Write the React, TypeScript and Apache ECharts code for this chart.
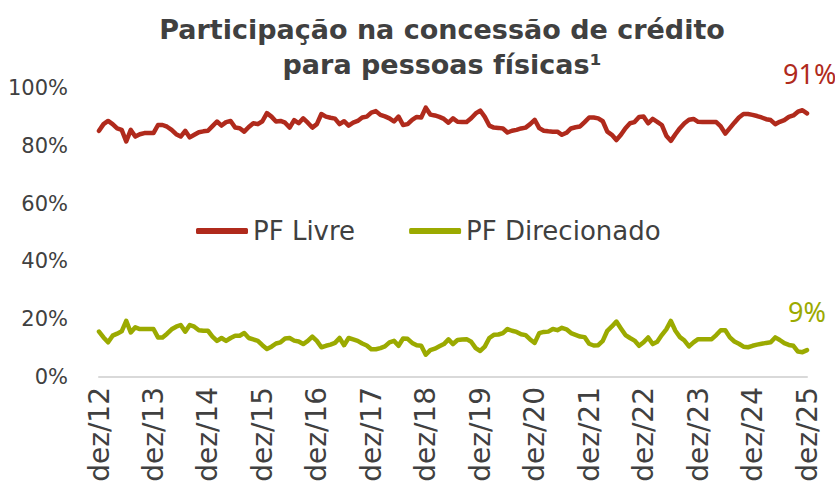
import React, { useEffect, useRef } from "react";
import * as echarts from "echarts";

const MONTHS = ["jan", "fev", "mar", "abr", "mai", "jun", "jul", "ago", "set", "out", "nov", "dez"];
const START_YEAR = 12;
const END_YEAR = 25;

const categories: string[] = (() => {
  const out: string[] = ["dez/" + START_YEAR];
  for (let y = START_YEAR + 1; y <= END_YEAR; y++) {
    for (let m = 0; m < 12; m++) out.push(MONTHS[m] + "/" + y);
  }
  return out;
})();

const pfLivre = [
  85.2, 87.5, 88.6, 87.5, 86.0, 85.5, 81.5, 85.5, 83.2, 84.0,
  84.4, 84.4, 84.4, 87.2, 87.2, 86.6, 85.5, 84.0, 83.2, 85.2,
  82.9, 83.8, 84.7, 85.0, 85.2, 86.8, 88.4, 87.0, 88.2, 88.6,
  86.3, 86.1, 84.9, 86.5, 87.8, 87.5, 88.5, 91.3, 90.1, 88.4,
  88.6, 88.0, 86.3, 88.9, 87.8, 89.5, 88.0, 86.3, 87.5, 91.0,
  90.1, 89.7, 89.4, 87.5, 88.5, 87.0, 88.0, 88.6, 89.8, 90.1,
  91.5, 92.0, 90.7, 90.2, 89.5, 88.4, 90.1, 87.2, 87.5, 89.0,
  90.0, 89.8, 93.2, 90.8, 90.5, 90.0, 89.3, 88.0, 89.5, 88.3,
  88.2, 88.2, 89.5, 91.2, 92.2, 90.0, 87.0, 86.3, 86.2, 86.0,
  84.6, 85.2, 85.5, 86.0, 86.3, 87.5, 89.0, 86.1, 85.2, 85.0,
  84.9, 84.9, 83.8, 84.5, 86.0, 86.4, 86.7, 88.2, 89.8, 89.8,
  89.5, 88.5, 84.9, 83.8, 82.0, 83.8, 86.1, 87.8, 88.2, 90.0,
  90.1, 87.8, 89.3, 88.3, 87.2, 83.5, 81.7, 84.0, 86.1, 87.8,
  89.0, 89.3, 88.3, 88.2, 88.2, 88.2, 88.2, 86.7, 84.2, 86.1,
  88.0, 89.8, 91.0, 91.0, 90.7, 90.3, 89.8, 89.2, 88.9, 87.5,
  88.3, 88.9, 90.0, 90.5, 91.8, 92.3, 91.2,
];

const pfDirecionado = [
  15.7, 13.7, 12.0, 14.3, 15.0, 15.8, 19.4, 15.4, 17.2, 16.6,
  16.6, 16.6, 16.6, 13.7, 13.7, 15.0, 16.5, 17.4, 18.0, 15.7,
  18.0, 17.4, 16.2, 16.0, 16.0, 14.0, 12.5, 13.5, 12.5, 13.5,
  14.3, 14.3, 15.2, 13.5, 13.0, 12.5, 11.0, 9.7, 10.5, 11.6,
  12.0, 13.3, 13.5, 12.6, 12.3, 11.4, 12.5, 14.0, 12.5, 10.3,
  10.8, 11.2, 11.8, 13.5, 11.0, 13.5, 13.0, 12.5, 11.6, 10.9,
  9.6, 9.6, 10.0, 10.6, 12.0, 12.5, 10.8, 13.3, 13.2, 11.8,
  11.0, 10.8, 7.7, 9.3, 9.8, 10.6, 11.4, 13.0, 11.4, 12.8,
  13.0, 13.1, 12.2, 10.0, 9.0, 10.5, 13.5, 14.6, 14.7, 15.2,
  16.6, 16.0, 15.6, 14.8, 14.5, 13.0, 11.8, 15.2, 15.6, 15.7,
  16.6, 16.2, 17.0, 16.5, 15.2, 14.6, 14.0, 13.8, 11.5, 10.9,
  11.0, 12.5, 16.0, 17.5, 19.2, 16.8, 14.5, 13.5, 12.6, 10.8,
  12.0, 13.7, 11.4, 12.2, 14.5, 16.5, 19.4, 16.0, 13.8, 12.6,
  10.6, 12.0, 13.1, 13.1, 13.1, 13.1, 14.5, 16.2, 16.2, 13.7,
  12.3, 11.5, 10.5, 10.3, 10.8, 11.2, 11.5, 11.8, 12.0, 13.7,
  12.8, 11.7, 11.1, 10.8, 8.8, 8.6, 9.3,
];

const TITLE = "Participação na concessão de crédito\npara pessoas físicas¹";
const SERIES_NAMES = ["PF Livre", "PF Direcionado"];

const RED = "#B02A1C";
const GREEN = "#9BAA00";
const TEXT = "#404040";
const FONT = "'DejaVu Sans', 'Noto Sans', sans-serif";
const FONT2 = "'Noto Sans', 'DejaVu Sans', sans-serif";

export default function App() {
  const ref = useRef<HTMLDivElement>(null);
  useEffect(() => {
    if (!ref.current) return;
    const chart = echarts.init(ref.current, null, { renderer: "svg" });
    chart.setOption({
      animation: false,
      backgroundColor: "#ffffff",
      textStyle: { fontFamily: FONT },
      title: {
        text: TITLE,
        left: 437,
        top: 7,
        textAlign: "center",
        textStyle: { fontSize: 27, fontWeight: "bold", color: TEXT, lineHeight: 35, fontFamily: FONT },
      },
      legend: {
        data: SERIES_NAMES,
        left: 196,
        top: 218,
        padding: 0,
        icon: "roundRect",
        itemWidth: 52,
        itemHeight: 6,
        itemGap: 54,
        textStyle: { fontSize: 26, color: TEXT, fontFamily: FONT },
      },
      grid: { left: 99, right: 28, top: 88, bottom: 109, containLabel: false },
      xAxis: {
        type: "category",
        data: categories,
        boundaryGap: false,
        axisTick: { show: false },
        axisLine: { lineStyle: { color: "#d9d9d9", width: 2 } },
        axisLabel: { interval: 11, rotate: 90, fontSize: 28, color: TEXT, margin: 10, fontFamily: FONT },
        splitLine: { show: false },
      },
      yAxis: {
        type: "value",
        min: 0,
        max: 100,
        interval: 20,
        axisLine: { show: false },
        axisTick: { show: false },
        splitLine: { show: false },
        axisLabel: { formatter: "{value}%", fontSize: 21, color: TEXT, margin: 31, fontFamily: FONT },
      },
      series: [
        {
          name: SERIES_NAMES[0],
          type: "line",
          data: pfLivre,
          showSymbol: false,
          symbol: "none",
          lineStyle: { color: RED, width: 4.5, cap: "round", join: "round" },
          itemStyle: { color: RED },
          endLabel: {
            show: true,
            formatter: (p: any) => Math.round(p.value) + "%",
            color: RED,
            fontSize: 27,
            fontFamily: FONT2,
            offset: [-32, -40],
          },
        },
        {
          name: SERIES_NAMES[1],
          type: "line",
          data: pfDirecionado,
          showSymbol: false,
          symbol: "none",
          lineStyle: { color: GREEN, width: 4.5, cap: "round", join: "round" },
          itemStyle: { color: GREEN },
          endLabel: {
            show: true,
            formatter: (p: any) => Math.round(p.value) + "%",
            color: GREEN,
            fontSize: 27,
            fontFamily: FONT2,
            offset: [-27, -39],
          },
        },
      ],
    });
    return () => chart.dispose();
  }, []);
  return <div ref={ref} style={{ position: "absolute", left: 0, top: 0, width: 835, height: 486 }} />;
}
